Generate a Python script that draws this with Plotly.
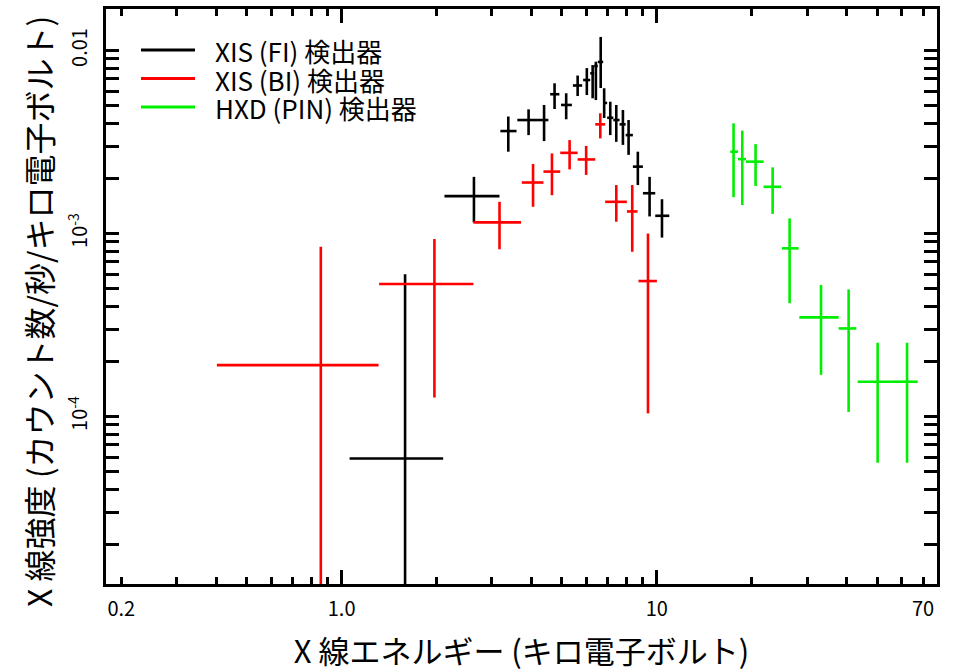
import math
import plotly.graph_objects as go

# ---------------- data ----------------
# XIS (FI): energy centre, bin low, bin high (keV); rate, lower, upper (counts/s/keV)
fi_e    = [1.59, 2.63, 3.38, 3.92, 4.39, 4.74, 5.16, 5.61, 6.00, 6.26, 6.41, 6.64, 6.81, 7.12, 7.44, 7.81, 8.14, 8.71, 9.49, 10.39]
fi_elo  = [1.06, 2.12, 3.19, 3.61, 4.17, 4.59, 4.97, 5.42, 5.84, 6.15, 6.33, 6.50, 6.76, 6.96, 7.28, 7.62, 7.97, 8.40, 9.04, 9.89]
fi_ehi  = [2.10, 3.17, 3.59, 4.17, 4.53, 4.91, 5.38, 5.80, 6.15, 6.33, 6.50, 6.76, 6.96, 7.28, 7.62, 7.97, 8.40, 9.04, 9.89, 10.96]
fi_r    = [5.9e-5, 1.60e-3, 3.63e-3, 4.17e-3, 4.17e-3, 5.77e-3, 5.04e-3, 6.44e-3, 6.90e-3, 7.51e-3, 8.23e-3, 8.66e-3, 5.17e-3, 4.29e-3, 4.17e-3, 3.95e-3, 3.45e-3, 2.32e-3, 1.66e-3, 1.25e-3]
fi_rlo  = [1e-6, 1.15e-3, 2.80e-3, 3.45e-3, 3.20e-3, 4.79e-3, 4.21e-3, 5.64e-3, 5.71e-3, 5.48e-3, 5.36e-3, 6.24e-3, 4.28e-3, 3.45e-3, 3.17e-3, 3.05e-3, 2.69e-3, 1.84e-3, 1.24e-3, 9.5e-4]
fi_rhi  = [6.0e-4, 2.04e-3, 4.36e-3, 4.77e-3, 5.04e-3, 6.62e-3, 5.84e-3, 7.30e-3, 8.02e-3, 8.33e-3, 8.69e-3, 1.186e-2, 6.22e-3, 5.25e-3, 5.04e-3, 4.73e-3, 4.17e-3, 2.80e-3, 2.04e-3, 1.54e-3]

# XIS (BI)
bi_e    = [0.859, 1.97, 3.17, 4.05, 4.65, 5.29, 5.97, 6.62, 7.44, 8.36, 9.38]
bi_elo  = [0.402, 1.315, 2.62, 3.73, 4.37, 4.94, 5.61, 6.38, 6.86, 8.04, 8.75]
bi_ehi  = [1.31, 2.62, 3.71, 4.37, 4.94, 5.61, 6.38, 6.86, 8.04, 8.69, 10.01]
bi_r    = [1.91e-4, 5.30e-4, 1.15e-3, 1.90e-3, 2.18e-3, 2.76e-3, 2.54e-3, 3.95e-3, 1.49e-3, 1.32e-3, 5.50e-4]
bi_rlo  = [1e-6, 1.27e-4, 8.2e-4, 1.40e-3, 1.62e-3, 2.24e-3, 2.09e-3, 3.31e-3, 1.16e-3, 7.95e-4, 1.04e-4]
bi_rhi  = [8.47e-4, 9.33e-4, 1.49e-3, 2.40e-3, 2.74e-3, 3.24e-3, 3.01e-3, 4.54e-3, 1.84e-3, 1.84e-3, 1.0e-3]

# HXD (PIN)
pin_e   = [17.53, 18.68, 20.59, 23.32, 26.40, 33.21, 40.63, 50.23, 62.27]
pin_elo = [17.11, 18.10, 19.19, 21.83, 24.97, 28.34, 37.77, 43.41, 55.81]
pin_ehi = [18.10, 19.19, 21.83, 24.80, 28.20, 37.77, 42.99, 55.81, 67.30]
pin_r   = [2.80e-3, 2.55e-3, 2.47e-3, 1.80e-3, 8.30e-4, 3.48e-4, 3.03e-4, 1.55e-4, 1.55e-4]
pin_rlo = [1.58e-3, 1.43e-3, 1.82e-3, 1.28e-3, 4.16e-4, 1.69e-4, 1.06e-4, 5.59e-5, 5.59e-5]
pin_rhi = [4.00e-3, 3.65e-3, 3.08e-3, 2.30e-3, 1.21e-3, 5.23e-4, 4.95e-4, 2.53e-4, 2.53e-4]

series_names = ["XIS (FI) 検出器", "XIS (BI) 検出器", "HXD (PIN) 検出器"]
series_colors = ["#000000", "#ff0000", "#00ee00"]

x_tick_vals = [0.2, 1.0, 10.0, 70.0]
x_tick_text = ["0.2", "1.0", "10", "70"]
y_tick_vals = [1e-4, 1e-3, 1e-2]
y_tick_text = ["10<sup>-4</sup>", "10<sup>-3</sup>", "0.01"]

x_title = "X 線エネルギー (キロ電子ボルト)"
y_title = "X 線強度 (カウント数/秒/キロ電子ボルト)"

x_range = (0.1788, 77.5)
y_range = (1.216e-5, 0.01686)

FONT = "Noto Sans CJK JP"

# ---------------- figure ----------------
fig = go.Figure()

data = [
    (fi_e, fi_elo, fi_ehi, fi_r, fi_rlo, fi_rhi),
    (bi_e, bi_elo, bi_ehi, bi_r, bi_rlo, bi_rhi),
    (pin_e, pin_elo, pin_ehi, pin_r, pin_rlo, pin_rhi),
]

for (e, elo, ehi, r, rlo, rhi), name, col in zip(data, series_names, series_colors):
    fig.add_trace(go.Scatter(
        x=e, y=r, mode="markers",
        marker=dict(size=1, color=col),
        error_x=dict(type="data", symmetric=False,
                     array=[h - c for h, c in zip(ehi, e)],
                     arrayminus=[c - l for c, l in zip(e, elo)],
                     width=0, thickness=2.6, color=col),
        error_y=dict(type="data", symmetric=False,
                     array=[h - c for h, c in zip(rhi, r)],
                     arrayminus=[c - l for c, l in zip(r, rlo)],
                     width=0, thickness=2.6, color=col),
        showlegend=False, hoverinfo="x+y", name=name,
    ))

# helper trace for the overlaid axis that carries the long decade ticks
fig.add_trace(go.Scatter(x=[None], y=[None], xaxis="x2", showlegend=False, hoverinfo="skip"))

# short x ticks at every 1-9 multiple not already a labelled tick
x_minor = []
for dec in [0.1, 1, 10]:
    for k in range(1, 10):
        v = round(k * dec, 6)
        if x_range[0] <= v <= x_range[1] and v not in x_tick_vals:
            x_minor.append(v)

y_minor = []
for dec in [1e-5, 1e-4, 1e-3, 1e-2]:
    for k in range(2, 10):
        v = k * dec
        if y_range[0] <= v <= y_range[1]:
            y_minor.append(v)

xr = [math.log10(x_range[0]), math.log10(x_range[1])]
yr = [math.log10(y_range[0]), math.log10(y_range[1])]

tick_common = dict(ticks="inside", tickwidth=2.5, tickcolor="black")

# legend drawn inside the plot: a line sample per series + one multi-line label block
legend_shapes = []
leg_y = [0.9287, 0.8791, 0.8296]
for col, yy in zip(series_colors, leg_y):
    legend_shapes.append(dict(type="line", xref="paper", yref="paper",
                              x0=0.0421, x1=0.1071, y0=yy, y1=yy,
                              line=dict(color=col, width=3)))
legend_text = "<br>".join("<span style='font-size:26px'>%s</span>" % n for n in series_names)
legend_annot = dict(text=legend_text, showarrow=False, xref="paper", yref="paper",
                    x=0.1288, y=leg_y[1], xanchor="left", yanchor="middle", align="left",
                    font=dict(size=22, family=FONT, color="black"))

fig.update_layout(
    width=953, height=672,
    margin=dict(l=106, r=16, t=9, b=88),
    paper_bgcolor="white", plot_bgcolor="white",
    font=dict(family=FONT, color="black", size=20),
    showlegend=False,
    xaxis=dict(
        type="log", range=xr, automargin=False,
        showline=True, linewidth=3, linecolor="black", mirror="allticks",
        ticklen=7, tickvals=x_tick_vals, ticktext=x_tick_text, **tick_common,
        minor=dict(ticklen=7, tickvals=x_minor, showgrid=False, **tick_common),
        tickfont=dict(size=20, family=FONT), ticklabelstandoff=5,
        showgrid=False, zeroline=False,
        title=dict(text=x_title, font=dict(size=31, family=FONT), standoff=26),
    ),
    xaxis2=dict(
        type="log", range=xr, overlaying="x", side="bottom", automargin=False,
        showline=False, mirror="allticks",
        ticklen=14, tickvals=[1, 10], showticklabels=False, **tick_common,
        showgrid=False, zeroline=False,
    ),
    yaxis=dict(
        type="log", range=yr, automargin=False,
        showline=True, linewidth=3, linecolor="black", mirror="allticks",
        ticklen=13, tickvals=y_tick_vals, ticktext=y_tick_text, tickangle=-90,
        **tick_common,
        tickfont=dict(size=20, family=FONT), ticklabelstandoff=8,
        minor=dict(ticklen=6, tickvals=y_minor, showgrid=False, **tick_common),
        showgrid=False, zeroline=False,
    ),
    shapes=legend_shapes,
    annotations=[legend_annot, dict(
        text=y_title, textangle=-90, showarrow=False,
        xref="paper", yref="paper", x=0, y=0.473, xanchor="center", yanchor="middle",
        xshift=-68, font=dict(size=32, family=FONT, color="black"),
    )],
)

fig.write_html("out.html", config={"displayModeBar": False},
               post_script="document.body.style.margin='0px';")
